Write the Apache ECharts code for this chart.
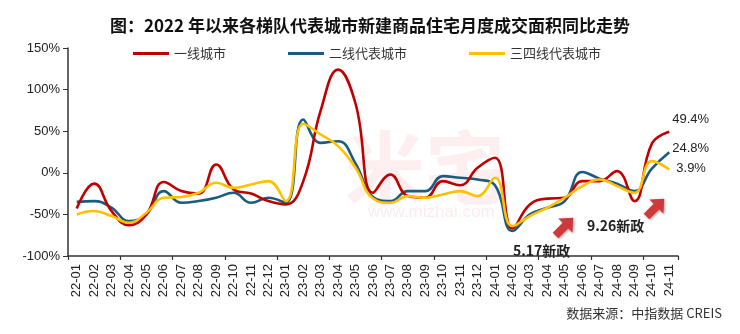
<!DOCTYPE html>
<html><head><meta charset="utf-8">
<script src="https://cdn.jsdelivr.net/npm/echarts@6/dist/echarts.min.js"></script>
<style>html,body{margin:0;padding:0;background:#fff}#c{width:740px;height:334px}</style>
</head><body><div id="c"></div>
<script>
const categories = ['22-01','22-02','22-03','22-04','22-05','22-06','22-07','22-08','22-09','22-10','22-11','22-12',
 '23-01','23-02','23-03','23-04','23-05','23-06','23-07','23-08','23-09','23-10','23-11','23-12',
 '24-01','24-02','24-03','24-04','24-05','24-06','24-07','24-08','24-09','24-10','24-11'];
const tier1 = [-43,-13,-46,-63,-50,-11,-22,-25,10,-20,-25,-34,-38,-10,75,124,83,-24,-2,-28,-30,-10,-15,6,18,-67,-38,-31,-30,-10,-10,2,-34,35,49.4];
const tier2 = [-35,-34,-42,-58,-50,-22,-36,-34,-30,-24,-36,-30,-36,64,36,38,11,-29,-34,-22,-22,-4,-6,-8,-15,-70,-50,-42,-34,1,-7,-13,-22,5,24.8];
const tier34 = [-50,-46,-52,-60,-48,-30,-29,-24,-12,-18,-14,-10,-34,59,46,32,6,-31,-36,-28,-30,-26,-22,-28,-6,-64,-52,-42,-30,-16,-8,-16,-24,14,3.9];
const seriesNames = ['一线城市','二线代表城市','三四线代表城市'];

const chart = echarts.init(document.getElementById('c'));
const font = 'Liberation Sans, Arial, Noto Sans CJK SC';
function endLabel(offset){
  return {show:true,offset:offset,distance:3,formatter:(p)=>Number(p.value).toFixed(1)+'%',
    color:'#222',fontSize:13,fontFamily:font};
}
function mk(name,data,color,z,off){
  return {type:'line',name:name,data:data,smooth:0.45,symbol:'none',z:z,
    itemStyle:{color:color},lineStyle:{width:2.6,color:color},endLabel:endLabel(off)};
}
chart.setOption({
  animation:false,
  title:{text:'图：2022 年以来各梯队代表城市新建商品住宅月度成交面积同比走势',left:'center',top:12,
    textStyle:{fontSize:17,fontWeight:'bold',color:'#111',fontFamily:'Noto Sans CJK SC'}},
  legend:{top:42,left:128,itemGap:62,itemWidth:36,itemHeight:3,icon:'rect',
    textStyle:{fontSize:13,color:'#333',fontFamily:'Noto Sans CJK SC'},data:seriesNames},
  grid:{left:68,right:62,top:48,bottom:78},
  xAxis:[{type:'category',data:categories,position:'bottom',boundaryGap:true,
      axisLine:{show:false},axisTick:{show:false},
      axisLabel:{rotate:90,interval:0,fontSize:13,color:'#222',margin:8,fontFamily:font}},
    {type:'category',data:categories,position:'bottom',boundaryGap:true,
      axisLine:{show:true,onZero:true,lineStyle:{color:'#333',width:1.5}},
      axisTick:{show:true,length:4,lineStyle:{color:'#333',width:1.2}},
      axisLabel:{show:false}}],
  yAxis:{type:'value',min:-100,max:150,interval:50,
    axisLine:{show:true,lineStyle:{color:'#333',width:1.5}},
    axisTick:{show:true,length:5,lineStyle:{color:'#333'}},
    splitLine:{show:false},
    axisLabel:{formatter:v=>v+'%',fontSize:13,color:'#222',margin:8,fontFamily:font}},
  graphic:[
    {type:'text',left:345,top:128,z:-10,style:{text:'米宅',fontSize:80,fontWeight:'bold',fill:'rgba(240,120,120,0.12)',fontFamily:'Noto Sans CJK SC'}},
    {type:'text',left:368,top:204,z:-10,style:{text:'www.mizhai.com',fontSize:17,fill:'rgba(240,120,120,0.15)',fontFamily:font}},
    {type:'text',left:513,top:244,style:{text:'5.17新政',fontSize:14,fontWeight:'bold',fill:'#222',fontFamily:'Noto Sans CJK SC'}},
    {type:'text',left:587,top:219,style:{text:'9.26新政',fontSize:14,fontWeight:'bold',fill:'#222',fontFamily:'Noto Sans CJK SC'}},
    {type:'polygon',x:564,y:227,rotation:Math.PI/4,shape:{points:[[-12,-4],[2,-4],[2,-10],[13,0],[2,10],[2,4],[-12,4]]},
      style:{fill:'#d0393b',shadowBlur:3,shadowColor:'rgba(0,0,0,0.35)',shadowOffsetX:1,shadowOffsetY:1}},
    {type:'polygon',x:655,y:208,rotation:Math.PI/4,shape:{points:[[-12,-4],[2,-4],[2,-10],[13,0],[2,10],[2,4],[-12,4]]},
      style:{fill:'#d0393b',shadowBlur:3,shadowColor:'rgba(0,0,0,0.35)',shadowOffsetX:1,shadowOffsetY:1}},
    {type:'text',right:18,top:307,style:{text:'数据来源：中指数据 CREIS',fontSize:13,fill:'#333',fontFamily:'Noto Sans CJK SC'}}
  ],
  series:[
    mk(seriesNames[0],tier1,'#C00000',3,[0,-12]),
    mk(seriesNames[1],tier2,'#1B5B7D',2,[0,-4]),
    mk(seriesNames[2],tier34,'#FFC000',4,[4,-1])
  ]
});
</script></body></html>
